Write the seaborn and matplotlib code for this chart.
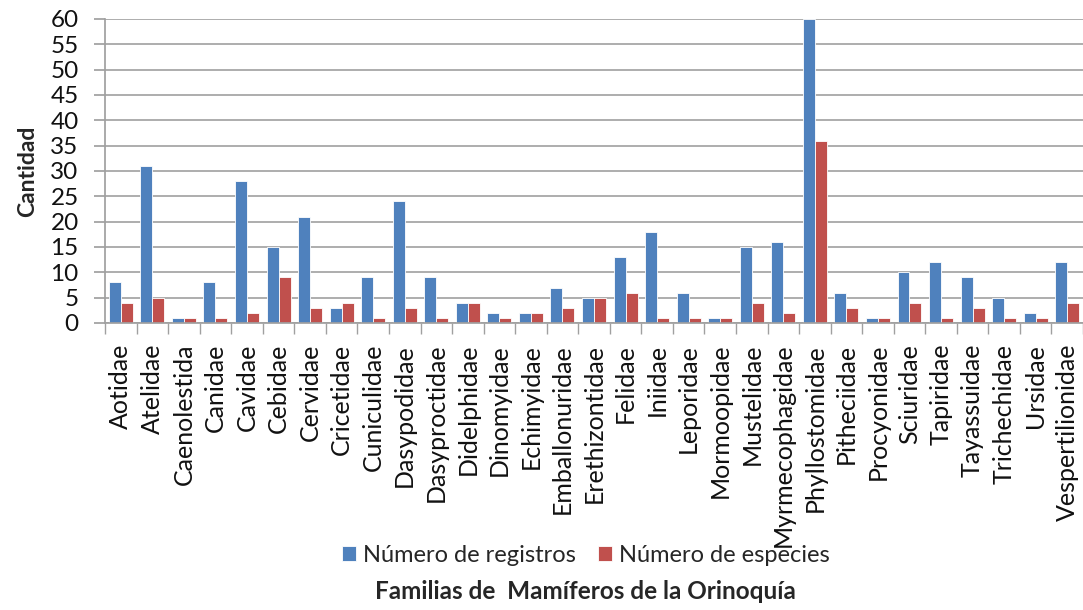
import pandas as pd
import seaborn as sns
import matplotlib.pyplot as plt
import numpy as np

# Data
familias = ['Aotidae', 'Atelidae', 'Caenolestida', 'Canidae', 'Cavidae', 'Cebidae',
            'Cervidae', 'Cricetidae', 'Cuniculidae', 'Dasypodidae', 'Dasyproctidae',
            'Didelphidae', 'Dinomyidae', 'Echimyidae', 'Emballonuridae', 'Erethizontidae',
            'Felidae', 'Iniidae', 'Leporidae', 'Mormoopidae', 'Mustelidae',
            'Myrmecophagidae', 'Phyllostomidae', 'Pitheciidae', 'Procyonidae',
            'Sciuridae', 'Tapiridae', 'Tayassuidae', 'Trichechidae', 'Ursidae',
            'Vespertilionidae']
registros = [8, 31, 1, 8, 28, 15, 21, 3, 9, 24, 9, 4, 2, 2, 7, 5, 13, 18, 6, 1,
             15, 16, 60, 6, 1, 10, 12, 9, 5, 2, 12]
especies = [4, 5, 1, 1, 2, 9, 3, 4, 1, 3, 1, 4, 1, 2, 3, 5, 6, 1, 1, 1,
            4, 2, 36, 3, 1, 4, 1, 3, 1, 1, 4]
series = ['Número de registros', 'Número de especies']
colores = ['#4F81BD', '#C0504D']

df = pd.DataFrame({'Familia': familias, series[0]: registros, series[1]: especies})
df_long = df.melt(id_vars='Familia', var_name='Serie', value_name='Cantidad')

sns.set_theme(style='white')
plt.rcParams['font.family'] = ['Lato', 'DejaVu Sans']

fig = plt.figure(figsize=(10.83, 6.10), dpi=100)
ax = fig.add_axes([0.097, 0.4705, 0.903, 0.4985])

sns.barplot(data=df_long, x='Familia', y='Cantidad', hue='Serie',
            palette=colores, width=0.76, saturation=1, ax=ax,
            edgecolor='white', linewidth=0.6)

ax.set_ylim(0, 60)
ax.set_yticks(range(0, 61, 5))
ax.set_xlim(-0.5, len(familias) - 0.5)
ax.yaxis.grid(True, color='#a0a0a0', linewidth=1.2)
ax.set_axisbelow(True)
for s in ['top', 'right']:
    ax.spines[s].set_visible(False)
ax.spines['left'].set_color('#a0a0a0')
ax.spines['bottom'].set_color('#a0a0a0')

ax.tick_params(axis='y', length=8, color='#a0a0a0', labelsize=17.5, pad=11,
               direction='out', left=True, labelcolor='#111111')
ax.tick_params(axis='x', which='major', length=0, labelsize=18, pad=15,
               labelcolor='#111111')
ax.set_xticks(np.arange(-0.5, len(familias), 1), minor=True)
ax.tick_params(axis='x', which='minor', length=8, color='#a0a0a0', direction='out',
               bottom=True)
ax.set_xticks(range(len(familias)))
ax.set_xticklabels(familias, rotation=90)

ax.set_ylabel('Cantidad', fontsize=16.5, fontweight='bold', labelpad=9)
ax.set_xlabel('')

handles, labels = ax.get_legend_handles_labels()
ax.get_legend().remove()
fig.legend(handles, labels, loc='center', bbox_to_anchor=(0.541, 0.09), ncol=2,
           frameon=False, fontsize=17, handlelength=0.6, handleheight=0.6,
           handletextpad=0.3, columnspacing=0.9)
fig.text(0.541, 0.03, 'Familias de  Mamíferos de la Orinoquía', ha='center',
         va='center', fontsize=17.5, fontweight='bold')

plt.savefig('out.png', dpi=100)
